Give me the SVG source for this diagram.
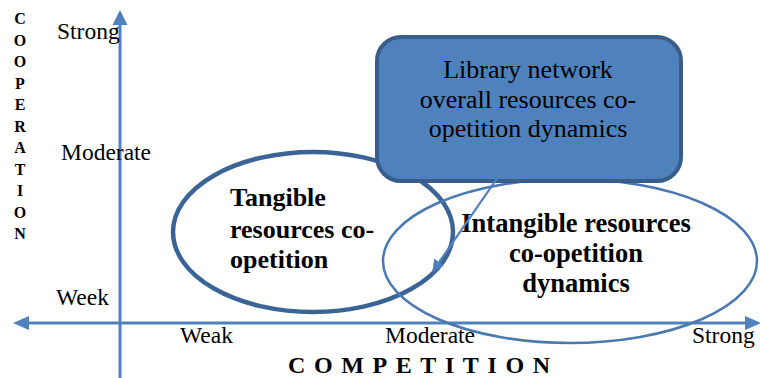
<svg xmlns="http://www.w3.org/2000/svg" width="760" height="378" viewBox="0 0 760 378">
<style>
.ax{stroke:#4F81BD;stroke-width:3;fill:none}
.lbl{font-family:"Liberation Serif","Times New Roman",serif;font-size:23.5px;fill:#000}
.bold{font-family:"Liberation Serif","Times New Roman",serif;font-weight:bold;fill:#000}
.box{font-family:"Liberation Serif","Times New Roman",serif;font-size:26px;fill:#000}
</style>
<defs>
<marker id="ah" viewBox="0 0 10 10" refX="9" refY="5" markerWidth="5.5" markerHeight="5.5" orient="auto-start-reverse" markerUnits="strokeWidth">
<path d="M0,0 L10,5 L0,10 z" fill="#4F81BD"/>
</marker>
</defs>
<rect width="760" height="378" fill="#fff"/>
<g id="axes">
<line class="ax" x1="120" y1="378" x2="120" y2="24"/>
<polygon points="120,10 112.5,25 127.5,25" fill="#4F81BD"/>
<line class="ax" x1="27" y1="323" x2="746" y2="323"/>
<polygon points="13,323 29,316 29,330" fill="#4F81BD"/>
<polygon points="761,323 745,316 745,330" fill="#4F81BD"/>
</g>
<g id="axis-labels">
<text class="lbl" x="57" y="39">Strong</text>
<text class="lbl" x="61" y="160">Moderate</text>
<text class="lbl" x="56" y="305">Week</text>
<text class="lbl" x="180" y="343">Weak</text>
<text class="lbl" x="385" y="343">Moderate</text>
<text class="lbl" x="692" y="343">Strong</text>
<text class="bold" x="288" y="373" font-size="24" letter-spacing="8.6">COMPETITION</text>
<g class="bold" font-size="16" text-anchor="middle">
<text x="20" y="24">C</text>
<text x="20" y="45.5">O</text>
<text x="20" y="67">O</text>
<text x="20" y="88.5">P</text>
<text x="20" y="110">E</text>
<text x="20" y="131.5">R</text>
<text x="20" y="153">A</text>
<text x="20" y="174.5">T</text>
<text x="20" y="196">I</text>
<text x="20" y="217.5">O</text>
<text x="20" y="239">N</text>
</g>
</g>
<g id="tangible">
<ellipse cx="313" cy="232" rx="140" ry="80" fill="none" stroke="#3A6396" stroke-width="4.5"/>
<text class="bold" font-size="26" x="230" y="206">Tangible</text>
<text class="bold" font-size="26" x="230" y="238">resources co-</text>
<text class="bold" font-size="26" x="230" y="268">opetition</text>
</g>
<g id="intangible">
<ellipse cx="570" cy="261" rx="187" ry="82" fill="none" stroke="#4A78B0" stroke-width="2.5"/>
<g class="bold" font-size="26.5" text-anchor="middle">
<text x="576" y="232">Intangible resources</text>
<text x="576" y="262">co-opetition</text>
<text x="576" y="292">dynamics</text>
</g>
</g>
<g id="library">
<rect x="377" y="37" width="304" height="144" rx="24" ry="24" fill="#4F81BD" stroke="#385D8A" stroke-width="4"/>
<g class="box" text-anchor="middle">
<text x="528" y="78">Library network</text>
<text x="528" y="108">overall resources co-</text>
<text x="528" y="137">opetition dynamics</text>
</g>
</g>
<g id="connectors">
<line x1="525" y1="138" x2="433" y2="271" stroke="#4F81BD" stroke-width="2.2" marker-end="url(#ah)"/>
</g>
</svg>
